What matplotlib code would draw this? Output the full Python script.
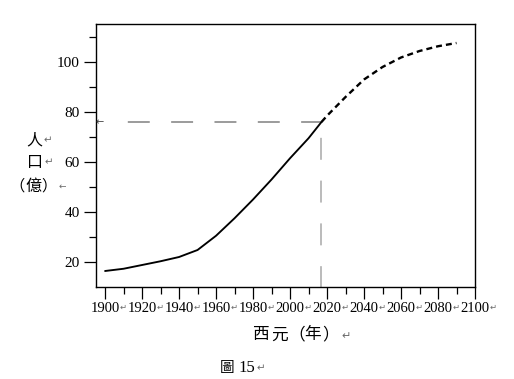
import matplotlib
matplotlib.use('Agg')
import matplotlib.pyplot as plt
import matplotlib.transforms as mtrans

# ---- data ----
years_solid = [1900, 1910, 1920, 1930, 1940, 1950, 1960, 1970, 1980, 1990, 2000, 2010, 2017]
pop_solid = [16.4, 17.3, 18.8, 20.3, 22.0, 24.8, 30.5, 37.5, 45.0, 53.0, 61.5, 69.5, 76.0]
years_proj = [2017, 2020, 2030, 2040, 2050, 2060, 2070, 2080, 2090]
pop_proj = [76.0, 78.5, 86.0, 93.0, 98.0, 101.8, 104.4, 106.3, 107.6]
ref_year = 2017
ref_pop = 76
x_major = list(range(1900, 2101, 20))
x_minor = list(range(1910, 2100, 20))
y_major = [20, 40, 60, 80, 100]
y_minor = [30, 50, 70, 90, 110]
x_labels = [str(v) for v in x_major]
y_labels = [str(v) for v in y_major]

plt.rcParams['lines.scale_dashes'] = False
W, H = 514, 379
fig = plt.figure(figsize=(W / 100, H / 100), dpi=100)
ax = fig.add_axes([96 / W, 1 - 287 / H, (475 - 96) / W, (287 - 24) / H])

def fx(x):
    return x / W

def fy(y):
    return 1 - y / H

ax.plot(years_solid, pop_solid, color='black', lw=1.35, solid_capstyle='round', zorder=3)
ax.plot(years_proj, pop_proj, color='black', lw=1.7, linestyle=(0, (4.3, 2.9)), zorder=3)

# reference dashed lines
ax.plot([ref_year, 1910.3], [ref_pop, ref_pop], color='#808080', lw=1.1,
        linestyle=(1.5, (15.8, 15.4)), zorder=2)
ax.plot([ref_year, ref_year], [ref_pop, 10], color='#a8a8a8', lw=1.1,
        linestyle=(19.4, (15.8, 15.0)), zorder=2)

ax.set_xlim(1895.1, 2100)
ax.set_ylim(10, 115.2)

ax.set_xticks(x_major)
ax.set_xticks(x_minor, minor=True)
ax.set_yticks(y_major)
ax.set_yticks(y_minor, minor=True)
ax.set_xticklabels(x_labels, fontfamily='Liberation Serif', fontsize=10.5)
ax.set_yticklabels(y_labels, fontfamily='Liberation Serif', fontsize=11)
ax.tick_params(axis='both', which='major', length=8.5, width=0.9, color='black', pad=3)
ax.tick_params(axis='both', which='minor', length=5, width=0.9, color='black')
ax.tick_params(axis='x', which='major', pad=2.5)
for sp in ax.spines.values():
    sp.set_linewidth(1.0)
    sp.set_color('black')

arrow_fam = ['DejaVu Sans']
arrow_col = '#6a6a6a'

# carriage-return marks after x tick labels
trans = mtrans.blended_transform_factory(ax.transData, fig.transFigure)
for v in x_major:
    t = mtrans.offset_copy(trans, fig=fig, x=14.8, y=0, units='dots')
    ax.text(v, fy(307.5), '↵', transform=t, ha='left', va='center',
            fontsize=6, color=arrow_col, family=arrow_fam)

# arrow at start of horizontal reference line
fig.text(fx(95.5), fy(122), '←', ha='left', va='center', fontsize=7,
         color='#404040', family=arrow_fam)

# y-axis label (stacked)
cjk = ['Noto Sans CJK TC', 'DejaVu Sans']
fig.text(fx(34), fy(140), '人', ha='center', va='center', fontsize=11.5, family=cjk)
fig.text(fx(44), fy(140), '↵', ha='left', va='center', fontsize=7.5, color=arrow_col, family=arrow_fam)
fig.text(fx(35), fy(162), '口', ha='center', va='center', fontsize=11.5, family=cjk)
fig.text(fx(45), fy(162), '↵', ha='left', va='center', fontsize=7.5, color=arrow_col, family=arrow_fam)
fig.text(fx(17), fy(186), '（', ha='center', va='center', fontsize=11, family=cjk)
fig.text(fx(33), fy(186), '億', ha='center', va='center', fontsize=11.5, family=cjk)
fig.text(fx(49), fy(186), '）', ha='center', va='center', fontsize=11, family=cjk)
fig.text(fx(59), fy(186.5), '←', ha='left', va='center', fontsize=6.5, color=arrow_col, family=arrow_fam)

# x-axis label
for ch, cx in zip(['西', '元', '（', '年', '）'], [260, 280, 297, 313, 331]):
    fig.text(fx(cx), fy(335), ch, ha='center', va='center', fontsize=12, family=cjk)
fig.text(fx(341), fy(336), '↵', ha='left', va='center', fontsize=8, color=arrow_col, family=arrow_fam)

# figure caption
fig.text(fx(227), fy(368), '圖', ha='center', va='center', fontsize=10.5, family=cjk)
fig.text(fx(238), fy(368), '15', ha='left', va='center', fontsize=12, family=['Liberation Serif'])
fig.text(fx(257), fy(368), '↵', ha='left', va='center', fontsize=7.5, color=arrow_col, family=arrow_fam)

fig.savefig('out.png', dpi=100)
